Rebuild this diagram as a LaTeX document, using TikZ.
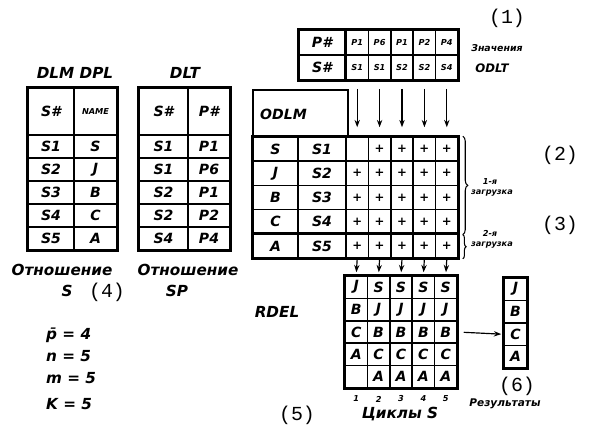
\documentclass[tikz,border=0pt]{standalone}
\usepackage{fontspec}
\setmainfont{DejaVu Sans}
\newfontfamily\monofont{Liberation Mono}
\usetikzlibrary{decorations.pathreplacing, arrows.meta}
\newcommand{\hw}{\bfseries\itshape}

\begin{document}
\begin{tikzpicture}[x=0.3mm, y=-0.3mm, >={Stealth[length=2.2mm, width=1.6mm]},
                    every node/.style={inner sep=0pt, font=\hw\fontsize{12}{12}\selectfont},
                    cell/.style 2 args={draw, line width=1.3pt, minimum width=#1*0.3mm, minimum height=#2*0.3mm},
                    frame/.style={line width=2.4pt},
                    lbl/.style={font=\hw\fontsize{13}{13}\selectfont},
                    small/.style={font=\hw\fontsize{7}{7}\selectfont},
                    tag/.style={font=\monofont\fontsize{17}{17}\selectfont},
                    flow/.style={->, line width=1pt}]
\useasboundingbox (0,0) rectangle (589,429);

% relation S (DLM DPL)
\node[lbl] (dlm) at (75,73) {DLM DPL};
\node[cell={46}{47}] (s-0-1) at (51,111.5) {S\#};
\node[cell={43}{47}, small] (s-0-2) at (95.5,111.5) {NAME};
\foreach \a/\b [count=\i] in {S1/S, S2/J, S3/B, S4/C, S5/A} {
  \node[cell={46}{23}] (s-\i-1) at (51,{123.5+23*\i}) {\a};
  \node[cell={43}{23}] (s-\i-2) at (95.5,{123.5+23*\i}) {\b};
}
\draw[frame] (s-0-1.north west) rectangle (s-5-2.south east);
\node[lbl] (rel1) at (62,270) {Отношение};
\node[lbl] (nameS) at (67,291) {S};
\node[tag] (tag4) at (107,292) {(4)};

% relation SP (DLT)
\node[lbl] (dlt) at (185,73) {DLT};
\node[cell={49}{47}] (p-0-1) at (163.5,111.5) {S\#};
\node[cell={42}{47}] (p-0-2) at (209,111.5) {P\#};
\foreach \a/\b [count=\i] in {S1/P1, S1/P6, S2/P1, S2/P2, S4/P4} {
  \node[cell={49}{23}] (p-\i-1) at (163.5,{123.5+23*\i}) {\a};
  \node[cell={42}{23}] (p-\i-2) at (209,{123.5+23*\i}) {\b};
}
\draw[frame] (p-0-1.north west) rectangle (p-5-2.south east);
\node[lbl] (rel2) at (188,270) {Отношение};
\node[lbl] (nameSP) at (177,291) {SP};

% parameters
\node[lbl, anchor=west] (par1) at (46,335) {p̄ = 4};
\node[lbl, anchor=west] (par2) at (46,356) {n = 5};
\node[lbl, anchor=west] (par3) at (46,378) {m = 5};
\node[lbl, anchor=west] (par4) at (46,404) {K = 5};

% ODLT values
\node[tag] (tag1) at (507,18) {(1)};
\node[cell={46}{25}] (t-1-0) at (322,42.5) {P\#};
\node[cell={46}{25}] (t-2-0) at (322,67.5) {S\#};
\foreach \a/\b [count=\c] in {P1/S1, P6/S1, P1/S2, P2/S2, P4/S4} {
  \node[cell={22.4}{25}, small] (t-1-\c) at ({334.8+22.4*\c},42.5) {\a};
  \node[cell={22.4}{25}, small] (t-2-\c) at ({334.8+22.4*\c},67.5) {\b};
}
\draw[frame] (t-1-0.north west) rectangle (t-2-5.south east);
\node[font=\hw\fontsize{8}{8}\selectfont] (znach) at (497,48) {Значения};
\node[font=\hw\fontsize{10}{10}\selectfont] (odlt) at (492,68) {ODLT};

% ODLM grid
\node[draw, frame, minimum width=95*0.3mm, minimum height=47*0.3mm] (odlm) at (300.5,113.5) {};
\node[font=\hw\fontsize{12}{12}\selectfont, anchor=west] (odlmtxt) at (260,114) {ODLM};
\foreach \n/\s [count=\r] in {S/S1, J/S2, B/S3, C/S4, A/S5} {
  \node[cell={45}{24.2}] (m-\r-n) at (275.5,{124.9+24.2*\r}) {\n};
  \node[cell={48}{24.2}] (m-\r-s) at (322,{124.9+24.2*\r}) {\s};
  \foreach \c in {1,...,5}
    \node[cell={22.4}{24.2}, font=\bfseries\fontsize{10}{10}\selectfont] (m-\r-d\c) at ({334.8+22.4*\c},{124.9+24.2*\r}) {\ifnum\r\c=11 \else+\fi};
}
\draw[frame] (m-1-n.north west) rectangle (m-5-d5.south east);
\draw[frame] (m-5-n.north west) -- (m-5-d5.north east);
\foreach \c in {1,...,5}
  \draw[flow, shorten <=2.4mm, shorten >=2.7mm] (t-2-\c.south) -- (m-1-d\c.north);

% loads
\draw[decorate, decoration={brace, amplitude=1.5mm}, line width=0.9pt]
  ([xshift=1.2mm]m-1-d5.north east) -- ([xshift=1.2mm]m-4-d5.south east);
\draw[decorate, decoration={brace, amplitude=1mm}, line width=0.9pt]
  ([xshift=1.2mm, yshift=-0.5mm]m-5-d5.north east) -- ([xshift=1.2mm]m-5-d5.south east);
\node[small] (load1a) at (490,182) {1-я};
\node[small] (load1b) at (492,193) {загрузка};
\node[small] (load2a) at (490,233) {2-я};
\node[small] (load2b) at (492,245) {загрузка};
\node[tag] (tag2) at (560,155) {(2)};
\node[tag] (tag3) at (560,225) {(3)};

% RDEL
\node[lbl] (rdel) at (277,312) {RDEL};
\foreach \a/\b [count=\i] in {J/S, B/J, C/B, A/C, {}/A} {
  \node[cell={22.4}{22.4}] (r-\i-1) at (356.2,{264.8+22.4*\i}) {\a};
  \foreach \c in {2,...,5}
    \node[cell={22.4}{22.4}] (r-\i-\c) at ({333.8+22.4*\c},{264.8+22.4*\i}) {\b};
}
\draw[frame] (r-1-1.north west) rectangle (r-5-5.south east);
\foreach \c in {1,...,5} {
  \draw[flow, shorten >=0.9mm] (m-5-d\c.south) -- (r-1-\c.north);
  \node[small] (cyc-\c) at ({333.8+22.4*\c},399) {\c};
}
\node[lbl] (cycles) at (400,414) {Циклы S};
\node[tag] (tag5) at (297,415) {(5)};

% result
\foreach \a [count=\i] in {J, B, C, A}
  \node[cell={23}{22.5}] (res-\i) at (515.5,{266.75+22.5*\i}) {\a};
\draw[frame] (res-1.north west) rectangle (res-4.south east);
\draw[flow, shorten <=1.8mm, shorten >=0.6mm] (r-3-5.east) -- (res-3.west);
\node[tag] (tag6) at (517,386) {(6)};
\node[font=\hw\fontsize{9}{9}\selectfont] (result) at (505,404) {Результаты};
\end{tikzpicture}
\end{document}
